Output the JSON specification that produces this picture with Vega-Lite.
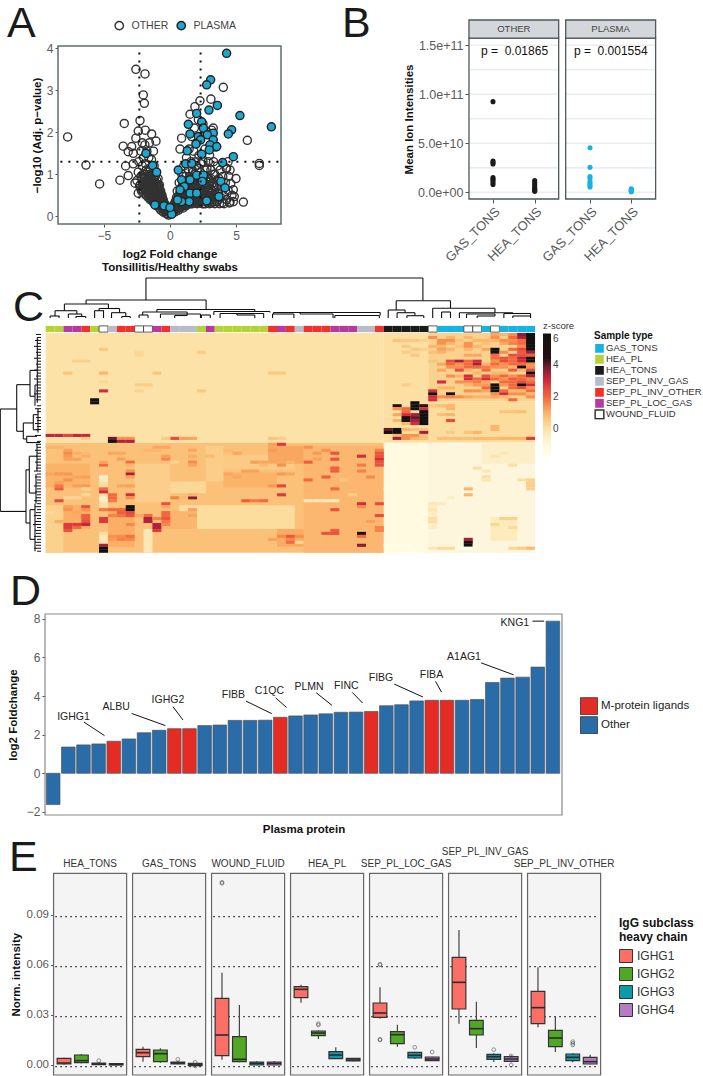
{"$schema":"https://vega.github.io/schema/vega-lite/v6.json","width":703,"height":1076,"autosize":{"type":"none"},"padding":0,"background":"white","config":{"view":{"stroke":null},"font":"Liberation Sans","axis":{"grid":false,"domain":false,"labelColor":"#5a5a5a","tickColor":"#555","titleColor":"#111","titleFontWeight":"bold","labelFontWeight":"normal"},"legend":{"labelFont":"Liberation Sans","titleFont":"Liberation Sans"}},
"datasets":{"box":[
{"p":"HEA_TONS","g":"IGHG1","x":1,"lo":0.0002,"q1":0.0006,"m":0.0012,"q3":0.004,"hi":0.0044},{"p":"HEA_TONS","g":"IGHG2","x":2,"lo":0.001,"q1":0.0014,"m":0.0026,"q3":0.006,"hi":0.0066},{"p":"HEA_TONS","g":"IGHG3","x":3,"lo":0,"q1":0.0002,"m":0.0006,"q3":0.0012,"hi":0.0016},{"p":"HEA_TONS","g":"IGHG4","x":4,"lo":-0.0002,"q1":0,"m":0.0003,"q3":0.0008,"hi":0.001},
{"p":"GAS_TONS","g":"IGHG1","x":5.54,"lo":0.002,"q1":0.005,"m":0.0074,"q3":0.0094,"hi":0.011},{"p":"GAS_TONS","g":"IGHG2","x":6.54,"lo":0.0014,"q1":0.002,"m":0.0068,"q3":0.009,"hi":0.01},{"p":"GAS_TONS","g":"IGHG3","x":7.54,"lo":0.0004,"q1":0.0006,"m":0.0012,"q3":0.0018,"hi":0.0026},{"p":"GAS_TONS","g":"IGHG4","x":8.54,"lo":-0.0005,"q1":-0.0004,"m":0.0002,"q3":0.001,"hi":0.0012},
{"p":"WOUND_FLUID","g":"IGHG1","x":10.08,"lo":0.0032,"q1":0.0056,"m":0.018,"q3":0.04,"hi":0.0554},{"p":"WOUND_FLUID","g":"IGHG2","x":11.08,"lo":0.0016,"q1":0.002,"m":0.0034,"q3":0.017,"hi":0.036},{"p":"WOUND_FLUID","g":"IGHG3","x":12.08,"lo":-0.0002,"q1":0,"m":0.001,"q3":0.0018,"hi":0.0022},{"p":"WOUND_FLUID","g":"IGHG4","x":13.08,"lo":-0.0002,"q1":0,"m":0.001,"q3":0.0018,"hi":0.0024},
{"p":"HEA_PL","g":"IGHG1","x":14.62,"lo":0.0374,"q1":0.0404,"m":0.0454,"q3":0.047,"hi":0.0482},{"p":"HEA_PL","g":"IGHG2","x":15.62,"lo":0.0156,"q1":0.0176,"m":0.0192,"q3":0.0204,"hi":0.0208},{"p":"HEA_PL","g":"IGHG3","x":16.62,"lo":0.0036,"q1":0.0038,"m":0.006,"q3":0.008,"hi":0.0106},{"p":"HEA_PL","g":"IGHG4","x":17.62,"lo":0.0022,"q1":0.0024,"m":0.003,"q3":0.004,"hi":0.0042},
{"p":"SEP_PL_LOC_GAS","g":"IGHG1","x":19.16,"lo":0.0278,"q1":0.0286,"m":0.0312,"q3":0.0372,"hi":0.0466},{"p":"SEP_PL_LOC_GAS","g":"IGHG2","x":20.16,"lo":0.011,"q1":0.0128,"m":0.0182,"q3":0.02,"hi":0.0242},{"p":"SEP_PL_LOC_GAS","g":"IGHG3","x":21.16,"lo":0.0036,"q1":0.0042,"m":0.0058,"q3":0.0076,"hi":0.008},{"p":"SEP_PL_LOC_GAS","g":"IGHG4","x":22.16,"lo":0.0024,"q1":0.0026,"m":0.0036,"q3":0.0048,"hi":0.005},
{"p":"SEP_PL_INV_GAS","g":"IGHG1","x":23.7,"lo":0.0248,"q1":0.0336,"m":0.0496,"q3":0.0646,"hi":0.081},{"p":"SEP_PL_INV_GAS","g":"IGHG2","x":24.7,"lo":0.0102,"q1":0.018,"m":0.0218,"q3":0.0268,"hi":0.038},{"p":"SEP_PL_INV_GAS","g":"IGHG3","x":25.7,"lo":0.0018,"q1":0.0034,"m":0.005,"q3":0.0064,"hi":0.007},{"p":"SEP_PL_INV_GAS","g":"IGHG4","x":26.7,"lo":0.0016,"q1":0.0022,"m":0.0036,"q3":0.005,"hi":0.0058},
{"p":"SEP_PL_INV_OTHER","g":"IGHG1","x":28.24,"lo":0.0226,"q1":0.0248,"m":0.0344,"q3":0.0442,"hi":0.0586},{"p":"SEP_PL_INV_OTHER","g":"IGHG2","x":29.24,"lo":0.0078,"q1":0.011,"m":0.0162,"q3":0.0208,"hi":0.029},{"p":"SEP_PL_INV_OTHER","g":"IGHG3","x":30.24,"lo":0.0016,"q1":0.0026,"m":0.0046,"q3":0.0066,"hi":0.007},{"p":"SEP_PL_INV_OTHER","g":"IGHG4","x":31.24,"lo":0.0004,"q1":0.0006,"m":0.002,"q3":0.0046,"hi":0.0062}
]},
"layer":[
{"encoding":{"x":{"field":"x","type":"quantitative","scale":{"domain":[-8.48,8.41],"range":[58,281]},"axis":{"orient":"bottom","values":[-5,0,5],"offset":-852,"labelFontSize":12,"tickSize":3,"title":["log2 Fold change","Tonsillitis/Healthy swabs"],"titleFontSize":11.5,"titlePadding":7,"labelPadding":3}},"y":{"field":"y","type":"quantitative","scale":{"domain":[-0.183,4.055],"range":[224,46]},"axis":{"orient":"left","values":[0,1,2,3,4],"offset":-58,"labelFontSize":12,"tickSize":3,"title":"−log10 (Adj. p−value)","titleFontSize":11.5,"titlePadding":4}}},
"layer":[
{"data":{"values":[{"x":-8.48,"x2":8.41,"y":-0.183,"y2":4.055}]},"mark":{"type":"rect","fill":"white","stroke":"#5f6e6e","strokeWidth":1.5},"encoding":{"x2":{"field":"x2"},"y2":{"field":"y2"}}},
{"data":{"values":[
{"t":"OTHER","x":-7.75,"y":1.89},{"t":"OTHER","x":-6.36,"y":1.22},{"t":"OTHER","x":-5.33,"y":0.77},{"t":"OTHER","x":-3.79,"y":0.86},{"t":"OTHER","x":-3.46,"y":2.21},{"t":"OTHER","x":-3.54,"y":1.67},{"t":"OTHER","x":-3.36,"y":1.2},{"t":"OTHER","x":-3.16,"y":0.97},{"t":"OTHER","x":-2.58,"y":3.5},{"t":"OTHER","x":-1.89,"y":3.39},{"t":"OTHER","x":-2.02,"y":2.89},{"t":"OTHER","x":-1.94,"y":2.69},{"t":"OTHER","x":-2.27,"y":2.28},{"t":"OTHER","x":-2.4,"y":2.03},{"t":"OTHER","x":-1.87,"y":2.05},{"t":"OTHER","x":-1.39,"y":1.96},{"t":"OTHER","x":-1.06,"y":1.79},{"t":"OTHER","x":-2.58,"y":1.86},{"t":"OTHER","x":-2.9,"y":1.66},{"t":"OTHER","x":-2.78,"y":1.5},{"t":"OTHER","x":-3.16,"y":1.54},{"t":"OTHER","x":-2.65,"y":0.79},{"t":"OTHER","x":-2.4,"y":0.55},{"t":"OTHER","x":-2.78,"y":1.25},
{"t":"OTHER","x":4.04,"y":3.07},{"t":"OTHER","x":2.27,"y":2.75},{"t":"OTHER","x":3.1,"y":2.79},{"t":"OTHER","x":1.89,"y":2.61},{"t":"OTHER","x":1.52,"y":2.43},{"t":"OTHER","x":5.86,"y":1.81},{"t":"OTHER","x":6.77,"y":1.26},{"t":"OTHER","x":6.77,"y":1.21},{"t":"OTHER","x":5.56,"y":0.34},{"t":"OTHER","x":5,"y":0.9},{"t":"OTHER","x":4.8,"y":0.63},{"t":"OTHER","x":4.87,"y":0.47},{"t":"OTHER","x":4.55,"y":0.34},{"t":"OTHER","x":4.8,"y":0.35},{"t":"OTHER","x":4.55,"y":1.1},{"t":"OTHER","x":4.29,"y":1.14},{"t":"OTHER","x":3.28,"y":2.1},{"t":"OTHER","x":0.88,"y":1.86},{"t":"OTHER","x":0.76,"y":1.6},
{"t":"OTHER","x":-2.5,"y":0.85},{"t":"OTHER","x":-2.4,"y":1.05},{"t":"OTHER","x":-2.35,"y":1.3},{"t":"OTHER","x":-2.3,"y":0.72},{"t":"OTHER","x":-2.2,"y":1.55},{"t":"OTHER","x":-2.2,"y":0.95},{"t":"OTHER","x":-2.15,"y":0.6},{"t":"OTHER","x":-2.1,"y":1.2},{"t":"OTHER","x":-2.1,"y":1.75},{"t":"OTHER","x":-2.05,"y":0.8},{"t":"OTHER","x":-2,"y":1.4},{"t":"OTHER","x":-2,"y":0.55},{"t":"OTHER","x":-1.95,"y":1},{"t":"OTHER","x":-1.9,"y":1.7},{"t":"OTHER","x":-1.9,"y":0.65},{"t":"OTHER","x":-1.85,"y":1.25},{"t":"OTHER","x":-1.8,"y":0.85},{"t":"OTHER","x":-1.8,"y":0.5},{"t":"OTHER","x":-1.75,"y":1.55},{"t":"OTHER","x":-1.7,"y":1.05},{"t":"OTHER","x":-1.7,"y":0.7},{"t":"OTHER","x":-1.65,"y":0.45},{"t":"OTHER","x":-1.6,"y":1.4},{"t":"OTHER","x":-1.6,"y":0.9},{"t":"OTHER","x":-1.55,"y":1.75},{"t":"OTHER","x":-1.55,"y":0.6},{"t":"OTHER","x":-1.5,"y":1.15},{"t":"OTHER","x":-1.5,"y":0.4},{"t":"OTHER","x":-1.45,"y":0.8},{"t":"OTHER","x":-1.4,"y":1.35},{"t":"OTHER","x":-1.4,"y":0.55},{"t":"OTHER","x":-1.35,"y":1},{"t":"OTHER","x":-1.3,"y":0.35},{"t":"OTHER","x":-1.3,"y":0.7},{"t":"OTHER","x":-1.25,"y":1.55},{"t":"OTHER","x":-1.25,"y":0.9},{"t":"OTHER","x":-1.2,"y":0.45},{"t":"OTHER","x":-1.2,"y":1.2},{"t":"OTHER","x":-1.15,"y":0.6},{"t":"OTHER","x":-1.1,"y":0.8},{"t":"OTHER","x":-1.1,"y":0.3},{"t":"OTHER","x":-1.05,"y":1},{"t":"OTHER","x":-1,"y":0.5},{"t":"OTHER","x":-1,"y":0.25},{"t":"OTHER","x":-0.95,"y":0.7},{"t":"OTHER","x":-0.9,"y":0.9},{"t":"OTHER","x":-0.9,"y":0.35},{"t":"OTHER","x":-0.85,"y":0.55},{"t":"OTHER","x":-0.8,"y":0.2},{"t":"OTHER","x":-0.8,"y":0.75},{"t":"OTHER","x":-0.75,"y":0.42},{"t":"OTHER","x":-0.7,"y":0.6},{"t":"OTHER","x":-0.7,"y":0.15},{"t":"OTHER","x":-0.65,"y":0.3},{"t":"OTHER","x":-0.6,"y":0.5},{"t":"OTHER","x":-0.55,"y":0.2},{"t":"OTHER","x":-0.5,"y":0.38},{"t":"OTHER","x":-0.5,"y":0.1},{"t":"OTHER","x":-0.45,"y":0.28},{"t":"OTHER","x":-0.4,"y":0.15},{"t":"OTHER","x":-0.35,"y":0.25},{"t":"OTHER","x":-0.3,"y":0.07},{"t":"OTHER","x":-0.25,"y":0.17},{"t":"OTHER","x":-0.2,"y":0.05},{"t":"OTHER","x":-0.15,"y":0.1},{"t":"OTHER","x":-0.1,"y":0.03},
{"t":"OTHER","x":-2.25,"y":0.75},{"t":"OTHER","x":-2.1,"y":0.65},{"t":"OTHER","x":-2.05,"y":1},{"t":"OTHER","x":-1.95,"y":0.75},{"t":"OTHER","x":-1.9,"y":0.95},{"t":"OTHER","x":-1.85,"y":0.6},{"t":"OTHER","x":-1.8,"y":1.1},{"t":"OTHER","x":-1.75,"y":0.8},{"t":"OTHER","x":-1.7,"y":0.55},{"t":"OTHER","x":-1.65,"y":0.95},{"t":"OTHER","x":-1.6,"y":0.7},{"t":"OTHER","x":-1.6,"y":0.5},{"t":"OTHER","x":-1.55,"y":1},{"t":"OTHER","x":-1.5,"y":0.7},{"t":"OTHER","x":-1.5,"y":0.55},{"t":"OTHER","x":-1.45,"y":0.95},{"t":"OTHER","x":-1.4,"y":0.7},{"t":"OTHER","x":-1.4,"y":0.42},{"t":"OTHER","x":-1.35,"y":0.85},{"t":"OTHER","x":-1.3,"y":0.55},{"t":"OTHER","x":-1.25,"y":0.75},{"t":"OTHER","x":-1.25,"y":0.4},{"t":"OTHER","x":-1.2,"y":0.65},{"t":"OTHER","x":-1.2,"y":0.9},{"t":"OTHER","x":-1.15,"y":0.35},{"t":"OTHER","x":-1.1,"y":0.55},{"t":"OTHER","x":-1.05,"y":0.7},{"t":"OTHER","x":-1.05,"y":0.4},{"t":"OTHER","x":-1,"y":0.85},{"t":"OTHER","x":-1,"y":0.6},{"t":"OTHER","x":-0.95,"y":0.45},{"t":"OTHER","x":-0.95,"y":0.28},{"t":"OTHER","x":-0.9,"y":0.6},{"t":"OTHER","x":-0.85,"y":0.4},{"t":"OTHER","x":-0.85,"y":0.7},{"t":"OTHER","x":-0.8,"y":0.5},{"t":"OTHER","x":-0.8,"y":0.3},{"t":"OTHER","x":-0.75,"y":0.6},{"t":"OTHER","x":-0.7,"y":0.4},{"t":"OTHER","x":-0.7,"y":0.28},{"t":"OTHER","x":-0.65,"y":0.5},{"t":"OTHER","x":-0.6,"y":0.35},{"t":"OTHER","x":-0.6,"y":0.2},{"t":"OTHER","x":-0.55,"y":0.42},{"t":"OTHER","x":-0.5,"y":0.25},{"t":"OTHER","x":-0.45,"y":0.15},{"t":"OTHER","x":-0.4,"y":0.3},{"t":"OTHER","x":-0.35,"y":0.12},{"t":"OTHER","x":-0.3,"y":0.2},{"t":"OTHER","x":-0.2,"y":0.13},
{"t":"OTHER","x":-2.2,"y":0.65},{"t":"OTHER","x":-2.1,"y":0.9},{"t":"OTHER","x":-2,"y":0.7},{"t":"OTHER","x":-1.95,"y":0.9},{"t":"OTHER","x":-1.85,"y":0.8},{"t":"OTHER","x":-1.8,"y":0.65},{"t":"OTHER","x":-1.75,"y":0.95},{"t":"OTHER","x":-1.7,"y":0.85},{"t":"OTHER","x":-1.65,"y":0.65},{"t":"OTHER","x":-1.6,"y":0.8},{"t":"OTHER","x":-1.55,"y":0.75},{"t":"OTHER","x":-1.5,"y":0.9},{"t":"OTHER","x":-1.5,"y":0.62},{"t":"OTHER","x":-1.45,"y":0.5},{"t":"OTHER","x":-1.4,"y":0.85},{"t":"OTHER","x":-1.35,"y":0.6},{"t":"OTHER","x":-1.3,"y":0.8},{"t":"OTHER","x":-1.3,"y":0.45},{"t":"OTHER","x":-1.25,"y":0.6},{"t":"OTHER","x":-1.2,"y":0.78},{"t":"OTHER","x":-1.2,"y":0.55},{"t":"OTHER","x":-1.15,"y":0.75},{"t":"OTHER","x":-1.15,"y":0.48},{"t":"OTHER","x":-1.1,"y":0.65},{"t":"OTHER","x":-1.1,"y":0.42},{"t":"OTHER","x":-1.05,"y":0.55},{"t":"OTHER","x":-1.05,"y":0.3},{"t":"OTHER","x":-1,"y":0.72},{"t":"OTHER","x":-1,"y":0.38},{"t":"OTHER","x":-0.95,"y":0.58},{"t":"OTHER","x":-0.9,"y":0.48},{"t":"OTHER","x":-0.9,"y":0.75},{"t":"OTHER","x":-0.85,"y":0.3},{"t":"OTHER","x":-0.8,"y":0.6},{"t":"OTHER","x":-0.75,"y":0.3},{"t":"OTHER","x":-0.75,"y":0.5},{"t":"OTHER","x":-0.7,"y":0.5},{"t":"OTHER","x":-0.65,"y":0.4},{"t":"OTHER","x":-0.6,"y":0.28},{"t":"OTHER","x":-0.55,"y":0.32},
{"t":"OTHER","x":0.1,"y":0.05},{"t":"OTHER","x":0.15,"y":0.12},{"t":"OTHER","x":0.2,"y":0.2},{"t":"OTHER","x":0.25,"y":0.08},{"t":"OTHER","x":0.3,"y":0.28},{"t":"OTHER","x":0.35,"y":0.15},{"t":"OTHER","x":0.4,"y":0.35},{"t":"OTHER","x":0.45,"y":0.12},{"t":"OTHER","x":0.5,"y":0.45},{"t":"OTHER","x":0.5,"y":0.22},{"t":"OTHER","x":0.55,"y":0.6},{"t":"OTHER","x":0.6,"y":0.3},{"t":"OTHER","x":0.65,"y":0.15},{"t":"OTHER","x":0.7,"y":0.5},{"t":"OTHER","x":0.7,"y":0.8},{"t":"OTHER","x":0.75,"y":0.2},{"t":"OTHER","x":0.8,"y":0.38},{"t":"OTHER","x":0.85,"y":0.65},{"t":"OTHER","x":0.9,"y":1},{"t":"OTHER","x":0.9,"y":0.25},{"t":"OTHER","x":0.95,"y":0.5},{"t":"OTHER","x":1,"y":0.8},{"t":"OTHER","x":1,"y":0.2},{"t":"OTHER","x":1.05,"y":1.2},{"t":"OTHER","x":1.1,"y":0.35},{"t":"OTHER","x":1.15,"y":0.6},{"t":"OTHER","x":1.2,"y":0.95},{"t":"OTHER","x":1.2,"y":0.25},{"t":"OTHER","x":1.25,"y":1.4},{"t":"OTHER","x":1.3,"y":0.45},{"t":"OTHER","x":1.35,"y":0.75},{"t":"OTHER","x":1.4,"y":1.1},{"t":"OTHER","x":1.4,"y":0.3},{"t":"OTHER","x":1.45,"y":1.6},{"t":"OTHER","x":1.5,"y":0.5},{"t":"OTHER","x":1.55,"y":0.9},{"t":"OTHER","x":1.6,"y":0.3},{"t":"OTHER","x":1.6,"y":1.3},{"t":"OTHER","x":1.65,"y":1.9},{"t":"OTHER","x":1.7,"y":0.65},{"t":"OTHER","x":1.75,"y":1.05},{"t":"OTHER","x":1.8,"y":0.35},{"t":"OTHER","x":1.8,"y":1.55},{"t":"OTHER","x":1.85,"y":2.1},{"t":"OTHER","x":1.9,"y":0.8},{"t":"OTHER","x":1.95,"y":0.45},{"t":"OTHER","x":2,"y":1.2},{"t":"OTHER","x":2,"y":1.75},{"t":"OTHER","x":2.05,"y":0.3},{"t":"OTHER","x":2.1,"y":0.95},{"t":"OTHER","x":2.15,"y":2.3},{"t":"OTHER","x":2.2,"y":0.6},{"t":"OTHER","x":2.2,"y":1.45},{"t":"OTHER","x":2.25,"y":0.35},{"t":"OTHER","x":2.3,"y":1.05},{"t":"OTHER","x":2.35,"y":1.9},{"t":"OTHER","x":2.4,"y":0.75},{"t":"OTHER","x":2.45,"y":0.3},{"t":"OTHER","x":2.5,"y":1.3},{"t":"OTHER","x":2.5,"y":2.2},{"t":"OTHER","x":2.55,"y":0.5},{"t":"OTHER","x":2.6,"y":0.95},{"t":"OTHER","x":2.65,"y":1.6},{"t":"OTHER","x":2.7,"y":0.3},{"t":"OTHER","x":2.75,"y":0.75},{"t":"OTHER","x":2.8,"y":1.15},{"t":"OTHER","x":2.85,"y":2},{"t":"OTHER","x":2.9,"y":0.45},{"t":"OTHER","x":2.95,"y":0.9},{"t":"OTHER","x":3,"y":1.45},{"t":"OTHER","x":3,"y":0.3},{"t":"OTHER","x":3.05,"y":0.65},{"t":"OTHER","x":3.1,"y":1.1},{"t":"OTHER","x":3.15,"y":2.05},{"t":"OTHER","x":3.2,"y":0.4},{"t":"OTHER","x":3.25,"y":0.8},{"t":"OTHER","x":3.3,"y":1.3},{"t":"OTHER","x":3.35,"y":0.5},{"t":"OTHER","x":3.4,"y":1},{"t":"OTHER","x":3.4,"y":0.3},{"t":"OTHER","x":3.45,"y":1.65},{"t":"OTHER","x":3.5,"y":0.7},{"t":"OTHER","x":3.55,"y":0.35},{"t":"OTHER","x":3.6,"y":1.2},{"t":"OTHER","x":3.65,"y":0.55},{"t":"OTHER","x":3.7,"y":0.9},{"t":"OTHER","x":3.75,"y":0.3},{"t":"OTHER","x":3.8,"y":1.1},{"t":"OTHER","x":3.85,"y":0.45},{"t":"OTHER","x":3.9,"y":0.7},{"t":"OTHER","x":3.95,"y":0.32},{"t":"OTHER","x":4,"y":0.95},{"t":"OTHER","x":4.05,"y":0.5},{"t":"OTHER","x":4.1,"y":0.3},{"t":"OTHER","x":4.2,"y":0.8},{"t":"OTHER","x":4.25,"y":1.15},{"t":"OTHER","x":4.3,"y":0.4},{"t":"OTHER","x":4.4,"y":0.62},{"t":"OTHER","x":4.45,"y":0.95},{"t":"OTHER","x":4.5,"y":0.32},{"t":"OTHER","x":4.6,"y":0.78},{"t":"OTHER","x":4.7,"y":0.5},{"t":"OTHER","x":4.4,"y":1.3},
{"t":"OTHER","x":0.2,"y":0.1},{"t":"OTHER","x":0.3,"y":0.15},{"t":"OTHER","x":0.35,"y":0.25},{"t":"OTHER","x":0.4,"y":0.2},{"t":"OTHER","x":0.45,"y":0.3},{"t":"OTHER","x":0.5,"y":0.32},{"t":"OTHER","x":0.55,"y":0.18},{"t":"OTHER","x":0.6,"y":0.45},{"t":"OTHER","x":0.65,"y":0.35},{"t":"OTHER","x":0.7,"y":0.25},{"t":"OTHER","x":0.75,"y":0.55},{"t":"OTHER","x":0.8,"y":0.22},{"t":"OTHER","x":0.85,"y":0.42},{"t":"OTHER","x":0.9,"y":0.7},{"t":"OTHER","x":0.95,"y":0.3},{"t":"OTHER","x":1,"y":0.55},{"t":"OTHER","x":1,"y":0.95},{"t":"OTHER","x":1.05,"y":0.35},{"t":"OTHER","x":1.1,"y":0.75},{"t":"OTHER","x":1.1,"y":0.5},{"t":"OTHER","x":1.15,"y":0.28},{"t":"OTHER","x":1.2,"y":0.6},{"t":"OTHER","x":1.25,"y":0.4},{"t":"OTHER","x":1.3,"y":0.85},{"t":"OTHER","x":1.3,"y":0.28},{"t":"OTHER","x":1.35,"y":0.55},{"t":"OTHER","x":1.4,"y":0.7},{"t":"OTHER","x":1.45,"y":0.4},{"t":"OTHER","x":1.5,"y":0.95},{"t":"OTHER","x":1.5,"y":0.3},{"t":"OTHER","x":1.55,"y":0.65},{"t":"OTHER","x":1.6,"y":0.45},{"t":"OTHER","x":1.65,"y":0.85},{"t":"OTHER","x":1.7,"y":0.3},{"t":"OTHER","x":1.7,"y":1.1},{"t":"OTHER","x":1.75,"y":0.5},{"t":"OTHER","x":1.8,"y":0.75},{"t":"OTHER","x":1.85,"y":0.4},{"t":"OTHER","x":1.85,"y":1},{"t":"OTHER","x":1.9,"y":0.55},{"t":"OTHER","x":1.95,"y":1.3},{"t":"OTHER","x":2,"y":0.7},{"t":"OTHER","x":2,"y":0.35},{"t":"OTHER","x":2.05,"y":0.9},{"t":"OTHER","x":2.1,"y":0.5},{"t":"OTHER","x":2.15,"y":1.15},{"t":"OTHER","x":2.2,"y":0.32},{"t":"OTHER","x":2.25,"y":0.75},{"t":"OTHER","x":2.3,"y":0.55},{"t":"OTHER","x":2.35,"y":1.25},{"t":"OTHER","x":2.4,"y":0.4},{"t":"OTHER","x":2.45,"y":0.95},{"t":"OTHER","x":2.5,"y":0.6},{"t":"OTHER","x":2.55,"y":0.3},{"t":"OTHER","x":2.6,"y":0.75},{"t":"OTHER","x":2.65,"y":1.1},{"t":"OTHER","x":2.7,"y":0.5},{"t":"OTHER","x":2.75,"y":0.35},{"t":"OTHER","x":2.8,"y":0.9},{"t":"OTHER","x":2.85,"y":0.6},{"t":"OTHER","x":2.9,"y":1.3},{"t":"OTHER","x":2.95,"y":0.35},{"t":"OTHER","x":3,"y":0.75},{"t":"OTHER","x":3.05,"y":0.5},{"t":"OTHER","x":3.1,"y":0.9},{"t":"OTHER","x":3.15,"y":0.32},{"t":"OTHER","x":3.2,"y":0.6},{"t":"OTHER","x":3.3,"y":1},{"t":"OTHER","x":3.35,"y":0.35},{"t":"OTHER","x":3.4,"y":0.7},{"t":"OTHER","x":3.5,"y":0.45},{"t":"OTHER","x":3.6,"y":0.85},{"t":"OTHER","x":3.7,"y":0.4},{"t":"OTHER","x":3.8,"y":0.65},
{"t":"OTHER","x":0.4,"y":0.28},{"t":"OTHER","x":0.5,"y":0.38},{"t":"OTHER","x":0.6,"y":0.22},{"t":"OTHER","x":0.65,"y":0.42},{"t":"OTHER","x":0.7,"y":0.35},{"t":"OTHER","x":0.75,"y":0.42},{"t":"OTHER","x":0.8,"y":0.3},{"t":"OTHER","x":0.85,"y":0.5},{"t":"OTHER","x":0.9,"y":0.38},{"t":"OTHER","x":0.95,"y":0.6},{"t":"OTHER","x":1,"y":0.42},{"t":"OTHER","x":1.05,"y":0.65},{"t":"OTHER","x":1.1,"y":0.25},{"t":"OTHER","x":1.15,"y":0.42},{"t":"OTHER","x":1.2,"y":0.72},{"t":"OTHER","x":1.25,"y":0.52},{"t":"OTHER","x":1.3,"y":0.62},{"t":"OTHER","x":1.35,"y":0.35},{"t":"OTHER","x":1.4,"y":0.52},{"t":"OTHER","x":1.45,"y":0.82},{"t":"OTHER","x":1.5,"y":0.65},{"t":"OTHER","x":1.55,"y":0.4},{"t":"OTHER","x":1.6,"y":0.72},{"t":"OTHER","x":1.65,"y":0.55},{"t":"OTHER","x":1.7,"y":0.42},{"t":"OTHER","x":1.75,"y":0.8},{"t":"OTHER","x":1.8,"y":0.55},{"t":"OTHER","x":1.85,"y":0.7},{"t":"OTHER","x":1.9,"y":0.35},{"t":"OTHER","x":1.95,"y":0.62},{"t":"OTHER","x":2,"y":0.85},{"t":"OTHER","x":2.05,"y":0.48},{"t":"OTHER","x":2.1,"y":0.72},{"t":"OTHER","x":2.15,"y":0.4},{"t":"OTHER","x":2.2,"y":0.9},{"t":"OTHER","x":2.25,"y":0.55},{"t":"OTHER","x":2.3,"y":0.8},{"t":"OTHER","x":2.35,"y":0.35},{"t":"OTHER","x":2.4,"y":0.6},{"t":"OTHER","x":2.45,"y":0.45},{"t":"OTHER","x":2.5,"y":0.8},{"t":"OTHER","x":2.6,"y":0.4},{"t":"OTHER","x":2.65,"y":0.6},{"t":"OTHER","x":2.7,"y":0.85},{"t":"OTHER","x":2.75,"y":0.5},{"t":"OTHER","x":2.8,"y":0.35},{"t":"OTHER","x":2.85,"y":0.72},{"t":"OTHER","x":2.9,"y":0.6},{"t":"OTHER","x":3,"y":0.45},{"t":"OTHER","x":3.05,"y":0.82},{"t":"OTHER","x":3.1,"y":0.55},{"t":"OTHER","x":3.2,"y":0.78},{"t":"OTHER","x":3.3,"y":0.45},{"t":"OTHER","x":3.4,"y":0.55},
{"t":"PLASMA","x":4.29,"y":3.88},{"t":"PLASMA","x":3.08,"y":3.25},{"t":"PLASMA","x":2.78,"y":3.13},{"t":"PLASMA","x":2.95,"y":2.53},{"t":"PLASMA","x":3.59,"y":2.64},{"t":"PLASMA","x":5.3,"y":2.4},{"t":"PLASMA","x":7.68,"y":2.13},{"t":"PLASMA","x":4.67,"y":2.06},{"t":"PLASMA","x":4.42,"y":1.96},{"t":"PLASMA","x":2.02,"y":2.45},{"t":"PLASMA","x":2.4,"y":2.25},{"t":"PLASMA","x":1.39,"y":2.19},{"t":"PLASMA","x":2.53,"y":2.1},{"t":"PLASMA","x":1.52,"y":1.96},{"t":"PLASMA","x":3.28,"y":1.98},{"t":"PLASMA","x":2.15,"y":1.9},{"t":"PLASMA","x":2.83,"y":1.94},{"t":"PLASMA","x":2.32,"y":1.82},{"t":"PLASMA","x":3.28,"y":1.82},{"t":"PLASMA","x":3.03,"y":1.7},{"t":"PLASMA","x":1.97,"y":1.72},{"t":"PLASMA","x":3.54,"y":1.66},{"t":"PLASMA","x":1.31,"y":1.56},{"t":"PLASMA","x":2.98,"y":1.58},{"t":"PLASMA","x":2.4,"y":1.48},{"t":"PLASMA","x":4.8,"y":1.42},{"t":"PLASMA","x":3.99,"y":1.28},{"t":"PLASMA","x":1.19,"y":1.25},{"t":"PLASMA","x":1.64,"y":1.26},{"t":"PLASMA","x":0.63,"y":1.1},{"t":"PLASMA","x":2.02,"y":0.98},{"t":"PLASMA","x":2.53,"y":0.98},{"t":"PLASMA","x":2.45,"y":0.83},{"t":"PLASMA","x":1.52,"y":0.87},{"t":"PLASMA","x":0.88,"y":0.87},{"t":"PLASMA","x":1.09,"y":0.71},{"t":"PLASMA","x":0.76,"y":0.63},{"t":"PLASMA","x":3.86,"y":0.83},{"t":"PLASMA","x":4.17,"y":0.68},{"t":"PLASMA","x":3.71,"y":0.47},{"t":"PLASMA","x":1.52,"y":0.55},{"t":"PLASMA","x":2.02,"y":0.55},{"t":"PLASMA","x":2.78,"y":0.37},{"t":"PLASMA","x":1.46,"y":0.35},{"t":"PLASMA","x":0.88,"y":0.35},{"t":"PLASMA","x":0.58,"y":0.39},{"t":"PLASMA","x":-1.82,"y":1.5},{"t":"PLASMA","x":-1.31,"y":1.21},{"t":"PLASMA","x":-1.01,"y":1.05},{"t":"PLASMA","x":-1.14,"y":0.27},{"t":"PLASMA","x":-0.45,"y":0.25},{"t":"PLASMA","x":0.13,"y":0.05},{"t":"PLASMA","x":0,"y":0.21}
]},"mark":{"type":"point","filled":true,"size":66,"strokeWidth":1.4,"opacity":1},"encoding":{"fill":{"field":"t","type":"nominal","scale":{"domain":["OTHER","PLASMA"],"range":["transparent","#1fa7cf"]},"legend":{"orient":"none","legendX":114,"legendY":20,"direction":"horizontal","title":null,"symbolSize":70,"symbolStrokeWidth":1.4,"labelFontSize":10.5,"labelColor":"#444","columnPadding":5,"labelOffset":7}},"stroke":{"field":"t","type":"nominal","scale":{"domain":["OTHER","PLASMA"],"range":["#333333","#222222"]},"legend":{"orient":"none","legendX":114,"legendY":20,"direction":"horizontal","title":null,"symbolSize":70,"symbolStrokeWidth":1.4,"labelFontSize":10.5,"labelColor":"#444","columnPadding":5,"labelOffset":7}}}},
{"data":{"values":[{"x":-8.3,"x2":8.3,"y":1.3,"y2":1.3},{"x":-2.32,"x2":-2.32,"y":-0.15,"y2":4},{"x":2.32,"x2":2.32,"y":-0.15,"y2":4}]},"mark":{"type":"rule","stroke":"#111","strokeWidth":2,"strokeDash":[2,6]},"encoding":{"x2":{"field":"x2"},"y2":{"field":"y2"}}},
{"data":{"values":[{"x":-12.35,"y":4.27,"label":"A"}]},"mark":{"type":"text","align":"left","baseline":"alphabetic","fontSize":43,"color":"#1a1a1a"},"encoding":{"text":{"field":"label"}}}
]},
{"encoding":{"x":{"field":"x","type":"quantitative","scale":{"domain":[0,5],"range":[451.3,659.8]},"axis":{"orient":"bottom","values":[1,2,3.326,4.317],"offset":-877,"labelExpr":"datum.value<1.5||(datum.value>3&&datum.value<4)?'GAS_TONS':'HEA_TONS'","labelAngle":-45,"labelAlign":"right","labelBaseline":"top","labelFontSize":13,"labelOverlap":false,"tickSize":4,"title":null}},"y":{"field":"y","type":"quantitative","scale":{"domain":[-6800000000,175800000000],"range":[199,20]},"axis":{"orient":"left","values":[0,50000000000,100000000000,150000000000],"offset":-469,"labelExpr":"datum.value==0?'0.0e+00':format(datum.value,'.1e')","labelFontSize":12.5,"tickSize":4,"title":"Mean Ion Intensities","titleFontSize":11.5,"titlePadding":3,"titleY":119}}},
"layer":[
{"data":{"values":[{"x":0.424,"x2":2.575,"y":0},{"x":0.424,"x2":2.575,"y":2.5e10},{"x":0.424,"x2":2.575,"y":5e10},{"x":0.424,"x2":2.575,"y":7.5e10},{"x":0.424,"x2":2.575,"y":1e11},{"x":0.424,"x2":2.575,"y":1.25e11},{"x":0.424,"x2":2.575,"y":1.5e11},{"x":2.743,"x2":4.9,"y":0},{"x":2.743,"x2":4.9,"y":2.5e10},{"x":2.743,"x2":4.9,"y":5e10},{"x":2.743,"x2":4.9,"y":7.5e10},{"x":2.743,"x2":4.9,"y":1e11},{"x":2.743,"x2":4.9,"y":1.25e11},{"x":2.743,"x2":4.9,"y":1.5e11}]},"mark":{"type":"rule","stroke":"#ebedf0","strokeWidth":1.6},"encoding":{"x2":{"field":"x2"}}},
{"data":{"values":[{"x":0.424,"x2":2.575,"y":-6.8e9,"y2":1.574e11,"k":"panel"},{"x":2.743,"x2":4.9,"y":-6.8e9,"y2":1.574e11,"k":"panel"}]},"mark":{"type":"rect","fill":"transparent","stroke":"#4d5a5a","strokeWidth":1.3},"encoding":{"x2":{"field":"x2"},"y2":{"field":"y2"}}},
{"data":{"values":[{"x":0.424,"x2":2.575,"y":1.574e11,"y2":1.758e11},{"x":2.743,"x2":4.9,"y":1.574e11,"y2":1.758e11}]},"mark":{"type":"rect","fill":"#d3d7db","stroke":"#4d5a5a","strokeWidth":1.3},"encoding":{"x2":{"field":"x2"},"y2":{"field":"y2"}}},
{"data":{"values":[{"x":1,"y":9.25e10,"t":"OTHER"},{"x":1,"y":3.2e10,"t":"OTHER"},{"x":1,"y":3.05e10,"t":"OTHER"},{"x":1,"y":2.9e10,"t":"OTHER"},{"x":1,"y":1.5e10,"t":"OTHER"},{"x":1,"y":1.35e10,"t":"OTHER"},{"x":1,"y":1.2e10,"t":"OTHER"},{"x":1,"y":1e10,"t":"OTHER"},{"x":1,"y":8e9,"t":"OTHER"},{"x":2,"y":1.2e10,"t":"OTHER"},{"x":2,"y":1e10,"t":"OTHER"},{"x":2,"y":8e9,"t":"OTHER"},{"x":2,"y":6e9,"t":"OTHER"},{"x":2,"y":4e9,"t":"OTHER"},{"x":2,"y":3e9,"t":"OTHER"},{"x":2,"y":2e9,"t":"OTHER"},{"x":2,"y":1e9,"t":"OTHER"},{"x":3.326,"y":4.55e10,"t":"PLASMA"},{"x":3.326,"y":2.55e10,"t":"PLASMA"},{"x":3.326,"y":1.6e10,"t":"PLASMA"},{"x":3.326,"y":1.4e10,"t":"PLASMA"},{"x":3.326,"y":1.1e10,"t":"PLASMA"},{"x":3.326,"y":9e9,"t":"PLASMA"},{"x":3.326,"y":7e9,"t":"PLASMA"},{"x":3.326,"y":5.5e9,"t":"PLASMA"},{"x":4.317,"y":3.5e9,"t":"PLASMA"},{"x":4.317,"y":2.5e9,"t":"PLASMA"},{"x":4.317,"y":2e9,"t":"PLASMA"},{"x":4.317,"y":1.5e9,"t":"PLASMA"},{"x":4.317,"y":1e9,"t":"PLASMA"},{"x":4.317,"y":5e8,"t":"PLASMA"}]},"mark":{"type":"circle","size":26,"opacity":1},"encoding":{"color":{"field":"t","type":"nominal","scale":{"domain":["OTHER","PLASMA"],"range":["#1a1a1a","#19b2e6"]},"legend":null}}},
{"data":{"values":[{"x":1.5,"y":1.636e11,"label":"OTHER"},{"x":3.82,"y":1.636e11,"label":"PLASMA"}]},"mark":{"type":"text","align":"center","baseline":"alphabetic","fontSize":9.5,"color":"#444"},"encoding":{"text":{"field":"label"}}},
{"data":{"values":[{"x":0.712,"y":1.401e11,"label":"p =\u00a0 0.01865"},{"x":2.94,"y":1.401e11,"label":"p =\u00a0 0.001554"}]},"mark":{"type":"text","align":"left","baseline":"alphabetic","fontSize":12,"color":"#111"},"encoding":{"text":{"field":"label"}}},
{"data":{"values":[{"x":-2.62,"y":1.585e11,"label":"B"}]},"mark":{"type":"text","align":"left","baseline":"alphabetic","fontSize":43,"color":"#1a1a1a"},"encoding":{"text":{"field":"label"}}}
]},
{"encoding":{"x":{"field":"x","type":"quantitative","scale":{"domain":[0,45],"range":[45,0]},"axis":null},"y":{"field":"y","type":"quantitative","scale":{"domain":[0.5,74.5],"range":[333,552.7]},"axis":null}},"layer":[
{"data":{"values":[{"x":44.7,"x2":28.3,"y":26.1},{"x":44.7,"x2":19,"y":60.6},{"x":28.3,"x2":15,"y":17.9},{"x":28.3,"x2":21.7,"y":33.6},{"x":15,"x2":7.7,"y":13.1},{"x":15,"x2":10,"y":21.8},{"x":21.7,"x2":11.7,"y":30.8},{"x":21.7,"x2":18.3,"y":36.2},{"x":18.3,"x2":8,"y":35.3},{"x":18.3,"x2":5,"y":37.4},{"x":11.7,"x2":7,"y":28},{"x":11.7,"x2":7,"y":33.1},{"x":19,"x2":15.7,"y":46.6},{"x":19,"x2":15,"y":64.5},{"x":15.7,"x2":8,"y":42},{"x":15.7,"x2":9,"y":54.4},{"x":15,"x2":10,"y":60},{"x":15,"x2":10,"y":70}]},"mark":{"type":"rule","stroke":"#111","strokeWidth":1.1},"encoding":{"x2":{"field":"x2"}}},
{"data":{"values":[{"x":44.7,"y":26.1,"y2":60.6},{"x":28.3,"y":17.9,"y2":33.6},{"x":15,"y":13.1,"y2":21.8},{"x":21.7,"y":30.8,"y2":36.2},{"x":11.7,"y":28,"y2":33.1},{"x":18.3,"y":35.3,"y2":37.4},{"x":19,"y":46.6,"y2":64.5},{"x":15.7,"y":42,"y2":54.4},{"x":15,"y":60,"y2":70},{"x":7.7,"y":2,"y2":24},{"x":10,"y":18,"y2":25},{"x":7,"y":26,"y2":34},{"x":8,"y":38,"y2":47},{"x":9,"y":48,"y2":58},{"x":10,"y":58,"y2":66},{"x":10,"y":66,"y2":74}]},"mark":{"type":"rule","stroke":"#111","strokeWidth":1.1},"encoding":{"y2":{"field":"y2"}}},
{"data":{"values":[{"x":9,"y":1},{"x":8,"y":2},{"x":10,"y":3},{"x":8,"y":4},{"x":11,"y":5},{"x":8,"y":6},{"x":9,"y":7},{"x":8,"y":8},{"x":11,"y":9},{"x":8,"y":10},{"x":9,"y":11},{"x":8,"y":12},{"x":11,"y":13},{"x":8,"y":14},{"x":9,"y":15},{"x":11,"y":16},{"x":8,"y":17},{"x":10,"y":18},{"x":8,"y":19},{"x":9,"y":20},{"x":11,"y":21},{"x":8,"y":22},{"x":9,"y":23},{"x":8,"y":25},{"x":10,"y":26},{"x":8,"y":27},{"x":9,"y":29},{"x":8,"y":30},{"x":10,"y":31},{"x":8,"y":32},{"x":9,"y":33},{"x":10,"y":35},{"x":8,"y":37},{"x":9,"y":38},{"x":8,"y":39},{"x":10,"y":40},{"x":8,"y":41},{"x":9,"y":42},{"x":8,"y":43},{"x":10,"y":44},{"x":8,"y":45},{"x":9,"y":46},{"x":11,"y":47},{"x":8,"y":48},{"x":10,"y":49},{"x":8,"y":50},{"x":9,"y":51},{"x":11,"y":52},{"x":8,"y":53},{"x":10,"y":54},{"x":8,"y":55},{"x":9,"y":56},{"x":11,"y":57},{"x":8,"y":58},{"x":10,"y":59},{"x":8,"y":60},{"x":9,"y":61},{"x":11,"y":62},{"x":8,"y":63},{"x":10,"y":64},{"x":12,"y":65},{"x":8,"y":66},{"x":10,"y":67},{"x":9,"y":68},{"x":11,"y":69},{"x":8,"y":70},{"x":10,"y":71},{"x":9,"y":72},{"x":11,"y":73},{"x":8,"y":74}]},"mark":{"type":"rule","stroke":"#111","strokeWidth":1},"encoding":{"x2":{"datum":4}}}
]},
{"encoding":{"x":{"field":"c","type":"quantitative","scale":{"domain":[0.5,55.5],"range":[45.7,535]},"axis":null},"y":{"field":"r","type":"quantitative","scale":{"domain":[0.5,74.5],"range":[333,552.7]},"axis":null},"color":{"field":"z","type":"quantitative","scale":{"domain":[-1.7,-0.8,0,1,2,3,3.8,4.4,6],"range":["#ffffff","#fdf6dc","#fde3a8","#fbb56c","#f3693f","#d52c3d","#8a1d3a","#22100f","#111111"]},"legend":{"orient":"none","legendX":543,"legendY":321,"title":"z-score","titleFontSize":9.5,"titleFontWeight":"normal","titleColor":"#333","titlePadding":3,"gradientLength":123,"gradientThickness":8,"values":[0,2,4,6],"labelFontSize":10,"labelColor":"#444","tickCount":4,"labelOffset":2}}},
"layer":[
{"data":{"values":[{"c":0.5,"c2":38.5,"r":0.5,"r2":37.5,"z":0.02},{"c":38.5,"c2":43.5,"r":0.5,"r2":37.5,"z":0.1},{"c":43.5,"c2":55.5,"r":0.5,"r2":23.5,"z":0.4},{"c":43.5,"c2":55.5,"r":23.5,"r2":37.5,"z":0.15},{"c":0.5,"c2":38.5,"r":37.5,"r2":74.5,"z":0.75},{"c":15.5,"c2":28.5,"r":58.5,"r2":66.5,"z":0.15},{"c":10.5,"c2":14.5,"r":44.5,"r2":57.5,"z":0.45},{"c":19.5,"c2":28.5,"r":41.5,"r2":46.5,"z":0.55},{"c":14.5,"c2":18.5,"r":50.5,"r2":54.5,"z":0.25},{"c":18.5,"c2":20.5,"r":38.5,"r2":50.5,"z":0.5},{"c":6.5,"c2":7.5,"r":48.5,"r2":59.5,"z":0.1},{"c":6.5,"c2":7.5,"r":67.5,"r2":72.5,"z":-0.2},{"c":11.5,"c2":12.5,"r":66.5,"r2":74.5,"z":-0.2},{"c":0.5,"c2":2.5,"r":58.5,"r2":74.5,"z":0.4},{"c":0.5,"c2":5.5,"r":44.5,"r2":52.5,"z":1.05},{"c":2.5,"c2":5.5,"r":58.5,"r2":66.5,"z":1.1},{"c":7.5,"c2":10.5,"r":60.5,"r2":72.5,"z":1.1},{"c":20.5,"c2":26.5,"r":47.5,"r2":52.5,"z":1.05},{"c":25.5,"c2":29.5,"r":38.5,"r2":44.5,"z":1.2},{"c":29.5,"c2":38.5,"r":38.5,"r2":74.5,"z":0.95},{"c":26.5,"c2":29.5,"r":66.5,"r2":72.5,"z":1.15},{"c":13.5,"c2":17.5,"r":60.5,"r2":66.5,"z":1.0},{"c":38.5,"c2":43.5,"r":37.5,"r2":74.5,"z":-1.25},{"c":43.5,"c2":55.5,"r":37.5,"r2":74.5,"z":-0.85},{"c":49.5,"c2":55.5,"r":37.5,"r2":44.5,"z":-0.5},{"c":43.5,"c2":44.5,"r":57.5,"r2":66.5,"z":-0.4},{"c":50.5,"c2":53.5,"r":62.5,"r2":70.5,"z":-0.3}]},"mark":{"type":"rect"},"encoding":{"x2":{"field":"c2"},"y2":{"field":"r2"}}},
{"data":{"values":[
{"c":7,"r":6,"z":0.6},{"c":7,"r":14,"z":1},{"c":7,"r":17,"z":0.3},{"c":7,"r":20,"z":3},{"c":6,"r":23,"z":6},{"c":6,"r":24,"z":6},{"c":11,"r":18,"z":0.5},{"c":12,"r":18,"z":0.5},{"c":11,"r":20,"z":0.4},{"c":11,"r":7,"z":0.3},{"c":11,"r":8,"z":0.3},{"c":18,"r":7,"z":0.5},{"c":18,"r":20,"z":0.6},{"c":1,"r":35,"z":3.2},{"c":2,"r":35,"z":3.2},{"c":3,"r":35,"z":2.6},{"c":4,"r":35,"z":3.2},{"c":5,"r":35,"z":3.2},{"c":5,"r":36,"z":0.6},{"c":3,"r":14,"z":0.7},{"c":13,"r":14,"z":0.7},{"c":4,"r":10,"z":0.4},{"c":5,"r":10,"z":0.4},{"c":26,"r":14,"z":0.6},{"c":27,"r":14,"z":0.6},{"c":8,"r":36,"z":4},{"c":8,"r":37,"z":6},{"c":9,"r":36,"z":1.5},{"c":10,"r":36,"z":1.5},{"c":9,"r":37,"z":3.4},{"c":10,"r":37,"z":3.4},{"c":15,"r":36,"z":2.5},{"c":16,"r":36,"z":1.3},{"c":17,"r":36,"z":1.2},{"c":14,"r":36,"z":0.6},{"c":26,"r":36,"z":0.7},{"c":27,"r":36,"z":0.5},
{"c":39,"r":33,"z":4},{"c":39,"r":34,"z":5.5},{"c":40,"r":3,"z":0.7},{"c":40,"r":25,"z":5},{"c":40,"r":26,"z":1.5},{"c":40,"r":28,"z":1.2},{"c":40,"r":30,"z":1},{"c":40,"r":33,"z":6},{"c":40,"r":34,"z":6},{"c":40,"r":35,"z":1},{"c":40,"r":36,"z":3.5},{"c":41,"r":3,"z":0.6},{"c":41,"r":5,"z":0.6},{"c":41,"r":7,"z":0.5},{"c":41,"r":18,"z":0.5},{"c":41,"r":26,"z":2},{"c":41,"r":27,"z":2},{"c":41,"r":28,"z":3},{"c":41,"r":29,"z":5.5},{"c":41,"r":30,"z":5.5},{"c":41,"r":31,"z":1},{"c":41,"r":33,"z":1},{"c":41,"r":35,"z":1.5},{"c":41,"r":36,"z":1.5},{"c":42,"r":3,"z":0.6},{"c":42,"r":6,"z":0.6},{"c":42,"r":8,"z":0.6},{"c":42,"r":24,"z":6},{"c":42,"r":25,"z":6},{"c":42,"r":26,"z":6},{"c":42,"r":28,"z":3.5},{"c":42,"r":29,"z":4},{"c":42,"r":30,"z":3.5},{"c":42,"r":31,"z":3},{"c":42,"r":33,"z":0.8},{"c":42,"r":35,"z":1.5},{"c":42,"r":36,"z":1},{"c":43,"r":3,"z":0.4},{"c":43,"r":6,"z":0.4},{"c":43,"r":25,"z":4.5},{"c":43,"r":26,"z":3},{"c":43,"r":27,"z":6},{"c":43,"r":28,"z":6},{"c":43,"r":29,"z":6},{"c":43,"r":30,"z":6},{"c":43,"r":31,"z":6},{"c":43,"r":33,"z":0.7},{"c":43,"r":34,"z":3.5},{"c":43,"r":35,"z":0.8},{"c":43,"r":36,"z":0.8},
{"c":44,"r":2,"z":1.5},{"c":44,"r":5,"z":1},{"c":44,"r":7,"z":0.8},{"c":44,"r":10,"z":0.7},{"c":44,"r":20,"z":3},{"c":44,"r":21,"z":6},{"c":44,"r":22,"z":3},{"c":44,"r":23,"z":3},{"c":44,"r":25,"z":0.6},{"c":45,"r":3,"z":1.5},{"c":45,"r":4,"z":1.5},{"c":45,"r":5,"z":1},{"c":45,"r":6,"z":1.3},{"c":45,"r":7,"z":1},{"c":45,"r":11,"z":1.2},{"c":45,"r":13,"z":1.2},{"c":45,"r":17,"z":3},{"c":45,"r":19,"z":1},{"c":45,"r":22,"z":1.5},{"c":45,"r":25,"z":0.8},{"c":45,"r":28,"z":0.8},{"c":46,"r":2,"z":1},{"c":46,"r":3,"z":1.5},{"c":46,"r":4,"z":1},{"c":46,"r":6,"z":1},{"c":46,"r":10,"z":2.5},{"c":46,"r":11,"z":2},{"c":46,"r":12,"z":1.5},{"c":46,"r":15,"z":1.5},{"c":46,"r":19,"z":1},{"c":46,"r":21,"z":6},{"c":46,"r":22,"z":1.7},{"c":46,"r":25,"z":1},{"c":46,"r":26,"z":1},{"c":46,"r":28,"z":1},{"c":46,"r":30,"z":2.5},{"c":46,"r":34,"z":0.5},{"c":47,"r":3,"z":0.7},{"c":47,"r":5,"z":0.8},{"c":47,"r":10,"z":3.5},{"c":47,"r":11,"z":1.5},{"c":47,"r":12,"z":1.5},{"c":47,"r":13,"z":2.5},{"c":47,"r":15,"z":1},{"c":47,"r":17,"z":1.5},{"c":47,"r":22,"z":1.5},
{"c":48,"r":2,"z":1},{"c":48,"r":4,"z":1.5},{"c":48,"r":5,"z":1.5},{"c":48,"r":6,"z":1},{"c":48,"r":8,"z":1.2},{"c":48,"r":10,"z":2},{"c":48,"r":11,"z":2},{"c":48,"r":12,"z":2},{"c":48,"r":13,"z":1},{"c":48,"r":15,"z":3},{"c":48,"r":16,"z":3},{"c":48,"r":17,"z":1.5},{"c":48,"r":18,"z":1},{"c":48,"r":20,"z":1.5},{"c":48,"r":22,"z":1.2},{"c":48,"r":34,"z":0.7},{"c":49,"r":3,"z":1},{"c":49,"r":5,"z":1},{"c":49,"r":8,"z":1.2},{"c":49,"r":10,"z":3},{"c":49,"r":11,"z":3.5},{"c":49,"r":12,"z":2},{"c":49,"r":14,"z":1},{"c":49,"r":16,"z":2},{"c":49,"r":17,"z":1.8},{"c":49,"r":18,"z":1.4},{"c":49,"r":20,"z":1.5},{"c":49,"r":22,"z":1},{"c":49,"r":34,"z":1},{"c":50,"r":3,"z":1},{"c":50,"r":4,"z":0.8},{"c":50,"r":6,"z":1.2},{"c":50,"r":11,"z":1},{"c":50,"r":12,"z":1.8},{"c":50,"r":13,"z":2},{"c":50,"r":15,"z":2.5},{"c":50,"r":16,"z":3},{"c":50,"r":17,"z":1.2},{"c":50,"r":18,"z":1.4},{"c":50,"r":19,"z":2},{"c":50,"r":20,"z":1.2},{"c":50,"r":22,"z":1},
{"c":51,"r":1,"z":1.2},{"c":51,"r":2,"z":1.5},{"c":51,"r":3,"z":1},{"c":51,"r":6,"z":6},{"c":51,"r":7,"z":5.5},{"c":51,"r":8,"z":2},{"c":51,"r":9,"z":2},{"c":51,"r":10,"z":1.5},{"c":51,"r":11,"z":2},{"c":51,"r":12,"z":1.5},{"c":51,"r":14,"z":1},{"c":51,"r":15,"z":1.5},{"c":51,"r":16,"z":2},{"c":51,"r":18,"z":6},{"c":51,"r":19,"z":6},{"c":51,"r":20,"z":6},{"c":51,"r":21,"z":1.5},{"c":51,"r":22,"z":1.2},{"c":51,"r":32,"z":1},{"c":51,"r":33,"z":1},{"c":52,"r":1,"z":1},{"c":52,"r":3,"z":1.5},{"c":52,"r":4,"z":1.2},{"c":52,"r":7,"z":1.5},{"c":52,"r":9,"z":2.4},{"c":52,"r":10,"z":2.5},{"c":52,"r":11,"z":1.5},{"c":52,"r":12,"z":1.5},{"c":52,"r":14,"z":1},{"c":52,"r":15,"z":2},{"c":52,"r":16,"z":1.5},{"c":52,"r":17,"z":2},{"c":52,"r":18,"z":1.4},{"c":52,"r":20,"z":2},{"c":52,"r":21,"z":3},{"c":52,"r":22,"z":1},{"c":52,"r":27,"z":0.7},
{"c":53,"r":1,"z":1.5},{"c":53,"r":2,"z":2},{"c":53,"r":3,"z":1.5},{"c":53,"r":4,"z":1.7},{"c":53,"r":6,"z":2},{"c":53,"r":8,"z":2.5},{"c":53,"r":9,"z":2},{"c":53,"r":10,"z":2},{"c":53,"r":11,"z":2},{"c":53,"r":12,"z":1},{"c":53,"r":13,"z":2.2},{"c":53,"r":15,"z":1.5},{"c":53,"r":16,"z":2.2},{"c":53,"r":17,"z":2},{"c":53,"r":18,"z":2},{"c":53,"r":19,"z":2},{"c":53,"r":20,"z":1},{"c":53,"r":21,"z":1.5},{"c":53,"r":23,"z":2},{"c":53,"r":27,"z":0.7},{"c":54,"r":1,"z":3.8},{"c":54,"r":2,"z":3.5},{"c":54,"r":3,"z":2},{"c":54,"r":4,"z":2},{"c":54,"r":5,"z":1.6},{"c":54,"r":6,"z":2.6},{"c":54,"r":7,"z":2.3},{"c":54,"r":8,"z":2.4},{"c":54,"r":9,"z":3.3},{"c":54,"r":10,"z":3},{"c":54,"r":11,"z":2},{"c":54,"r":12,"z":6},{"c":54,"r":13,"z":1},{"c":54,"r":15,"z":2},{"c":54,"r":16,"z":2},{"c":54,"r":17,"z":2.5},{"c":54,"r":18,"z":6},{"c":54,"r":19,"z":2.5},{"c":54,"r":20,"z":1},{"c":54,"r":21,"z":1.5},{"c":54,"r":27,"z":0.8},
{"c":55,"r":1,"z":6},{"c":55,"r":2,"z":6},{"c":55,"r":3,"z":6},{"c":55,"r":4,"z":6},{"c":55,"r":5,"z":6},{"c":55,"r":6,"z":6},{"c":55,"r":7,"z":3.6},{"c":55,"r":8,"z":2.2},{"c":55,"r":9,"z":6},{"c":55,"r":10,"z":6},{"c":55,"r":11,"z":1.5},{"c":55,"r":12,"z":1.5},{"c":55,"r":13,"z":2.5},{"c":55,"r":14,"z":6},{"c":55,"r":15,"z":3.5},{"c":55,"r":16,"z":1.7},{"c":55,"r":17,"z":2},{"c":55,"r":18,"z":3},{"c":55,"r":19,"z":1.5},{"c":55,"r":20,"z":2},{"c":55,"r":21,"z":1},{"c":55,"r":22,"z":1.5},{"c":55,"r":36,"z":2.8},{"c":45,"r":36,"z":0.8},{"c":46,"r":36,"z":0.8},{"c":47,"r":36,"z":0.8},{"c":48,"r":36,"z":0.8},{"c":49,"r":36,"z":0.9},{"c":50,"r":36,"z":0.9},{"c":51,"r":36,"z":0.9},{"c":52,"r":36,"z":1},{"c":53,"r":36,"z":1},{"c":54,"r":36,"z":1},
{"c":3,"r":40,"z":1.3},{"c":3,"r":41,"z":1.6},{"c":3,"r":42,"z":1.4},{"c":4,"r":41,"z":1.1},{"c":5,"r":41,"z":0.9},{"c":1,"r":39,"z":1},{"c":2,"r":39,"z":1},{"c":5,"r":42,"z":1.1},{"c":3,"r":43,"z":1.3},{"c":4,"r":43,"z":1.3},{"c":7,"r":45,"z":2},{"c":7,"r":44,"z":1.2},{"c":8,"r":41,"z":1.2},{"c":9,"r":41,"z":1.2},{"c":9,"r":43,"z":1.3},{"c":10,"r":44,"z":2},{"c":10,"r":45,"z":1},{"c":10,"r":47,"z":1.5},{"c":10,"r":48,"z":3.5},{"c":10,"r":49,"z":1.3},{"c":13,"r":39,"z":1.2},{"c":14,"r":39,"z":1.2},{"c":14,"r":42,"z":1.3},{"c":14,"r":43,"z":1.6},{"c":12,"r":40,"z":1},{"c":13,"r":40,"z":1},{"c":15,"r":44,"z":0.4},{"c":17,"r":40,"z":1.2},{"c":17,"r":42,"z":1.1},{"c":17,"r":44,"z":1.6},{"c":17,"r":45,"z":1.2},{"c":1,"r":48,"z":1.2},{"c":2,"r":48,"z":1.4},{"c":3,"r":48,"z":1.4},{"c":4,"r":49,"z":1.2},{"c":5,"r":49,"z":1.3},{"c":3,"r":50,"z":1.5},{"c":2,"r":51,"z":1.3},{"c":2,"r":52,"z":1.8},{"c":2,"r":53,"z":2.2},{"c":4,"r":52,"z":1.3},{"c":5,"r":52,"z":1.4},{"c":5,"r":53,"z":0.3},{"c":7,"r":49,"z":-0.5},{"c":7,"r":50,"z":-0.3},{"c":7,"r":53,"z":2},{"c":7,"r":54,"z":3},{"c":7,"r":56,"z":-0.4},{"c":7,"r":57,"z":-0.5},{"c":8,"r":55,"z":2},{"c":8,"r":56,"z":2},{"c":8,"r":57,"z":1.8},{"c":9,"r":52,"z":1.2},{"c":10,"r":52,"z":1.3},{"c":10,"r":55,"z":3},{"c":10,"r":56,"z":1.5},{"c":2,"r":57,"z":2.5},{"c":3,"r":56,"z":0.3},{"c":4,"r":56,"z":0.3},{"c":5,"r":55,"z":0.2},{"c":5,"r":59,"z":2.4},{"c":5,"r":60,"z":1.5},{"c":5,"r":62,"z":2.2},{"c":5,"r":63,"z":2.2},{"c":5,"r":64,"z":2.4},{"c":5,"r":65,"z":3.2},{"c":3,"r":59,"z":1.3},{"c":3,"r":60,"z":1.5},{"c":4,"r":61,"z":1.2},{"c":3,"r":65,"z":2.8},{"c":3,"r":66,"z":2.8},{"c":3,"r":67,"z":2.4},{"c":4,"r":65,"z":2.8},{"c":4,"r":66,"z":2},{"c":2,"r":64,"z":1.1},{"c":1,"r":61,"z":0.2},{"c":7,"r":60,"z":1.8},{"c":7,"r":63,"z":2.8},{"c":7,"r":64,"z":2.8},{"c":7,"r":68,"z":0.2},{"c":8,"r":60,"z":2},{"c":8,"r":62,"z":1.7},{"c":9,"r":60,"z":2},{"c":9,"r":61,"z":2.2},{"c":9,"r":62,"z":1.9},{"c":10,"r":59,"z":6},{"c":10,"r":60,"z":6},{"c":10,"r":61,"z":2.6},{"c":10,"r":62,"z":2.4},{"c":10,"r":65,"z":1.6},{"c":9,"r":69,"z":1.6},{"c":10,"r":69,"z":1.9},{"c":9,"r":70,"z":1.7},{"c":10,"r":70,"z":1.6},{"c":8,"r":69,"z":1.5},{"c":8,"r":70,"z":1.4},{"c":7,"r":72,"z":3.5},{"c":7,"r":73,"z":6},{"c":7,"r":74,"z":6},{"c":12,"r":62,"z":2},{"c":12,"r":63,"z":3.4},{"c":12,"r":64,"z":3.4},{"c":11,"r":62,"z":1.2},{"c":13,"r":63,"z":1.7},{"c":13,"r":65,"z":3.4},{"c":13,"r":66,"z":3.4},{"c":13,"r":67,"z":2.8},{"c":14,"r":58,"z":2.4},{"c":14,"r":59,"z":1.2},{"c":14,"r":61,"z":2},{"c":14,"r":62,"z":2},{"c":14,"r":63,"z":2.3},{"c":14,"r":64,"z":1.8},{"c":14,"r":65,"z":1.6},{"c":15,"r":56,"z":1.7},{"c":17,"r":56,"z":3.8},{"c":16,"r":56,"z":0.9},{"c":17,"r":55,"z":1},{"c":17,"r":60,"z":1.3},{"c":17,"r":62,"z":1.2},{"c":23,"r":57,"z":2.2},{"c":24,"r":57,"z":1.8},{"c":25,"r":57,"z":2},{"c":21,"r":48,"z":1.2},{"c":22,"r":49,"z":1.2},{"c":23,"r":47,"z":1.3},{"c":24,"r":47,"z":1.3},{"c":25,"r":45,"z":0.9},{"c":24,"r":44,"z":1.3},{"c":25,"r":44,"z":1.2},{"c":19,"r":42,"z":0.9},{"c":21,"r":40,"z":0.9},{"c":22,"r":41,"z":1.2},{"c":26,"r":38,"z":1.3},{"c":27,"r":38,"z":2.8},{"c":27,"r":41,"z":1.2},{"c":26,"r":40,"z":1.4},{"c":27,"r":45,"z":1.5},{"c":27,"r":52,"z":2.6},{"c":27,"r":55,"z":2.8},{"c":26,"r":52,"z":1.4},{"c":27,"r":48,"z":1.4},{"c":28,"r":44,"z":1},{"c":28,"r":48,"z":1.2},{"c":28,"r":69,"z":2.3},{"c":28,"r":70,"z":1.6},{"c":28,"r":71,"z":2},{"c":27,"r":69,"z":1.6},{"c":29,"r":69,"z":1.5},{"c":26,"r":70,"z":1.3},{"c":29,"r":71,"z":0.3},{"c":30,"r":44,"z":2.2},{"c":30,"r":50,"z":2},{"c":30,"r":39,"z":1.5},{"c":31,"r":41,"z":1.4},{"c":31,"r":43,"z":1.3},{"c":32,"r":49,"z":2.2},{"c":32,"r":68,"z":2.4},{"c":32,"r":40,"z":1.5},{"c":33,"r":41,"z":2.4},{"c":33,"r":43,"z":2.4},{"c":33,"r":46,"z":2.2},{"c":33,"r":47,"z":2.2},{"c":33,"r":53,"z":2},{"c":33,"r":60,"z":2.4},{"c":33,"r":67,"z":2.2},{"c":33,"r":68,"z":2.4},{"c":30,"r":57,"z":-0.2},{"c":31,"r":57,"z":-0.2},{"c":32,"r":57,"z":-0.3},{"c":33,"r":57,"z":-0.3},{"c":34,"r":50,"z":0.6},{"c":35,"r":55,"z":0.5},{"c":36,"r":42,"z":3},{"c":36,"r":45,"z":1.8},{"c":36,"r":47,"z":1.7},{"c":36,"r":58,"z":3},{"c":36,"r":59,"z":1.6},{"c":36,"r":68,"z":5},{"c":36,"r":69,"z":2},{"c":36,"r":72,"z":3.8},{"c":37,"r":49,"z":1.6},{"c":37,"r":64,"z":1.3},{"c":38,"r":40,"z":1.7},{"c":38,"r":41,"z":2.4},{"c":38,"r":42,"z":2.4},{"c":38,"r":43,"z":3},{"c":38,"r":44,"z":2.4},{"c":38,"r":45,"z":2.4},{"c":38,"r":58,"z":2.5},{"c":38,"r":62,"z":2.5},{"c":38,"r":66,"z":1.7},{"c":38,"r":67,"z":1.7},
{"c":48,"r":53,"z":1},{"c":48,"r":55,"z":1},{"c":48,"r":70,"z":3.5},{"c":48,"r":71,"z":5},{"c":48,"r":72,"z":6},{"c":49,"r":72,"z":-1},{"c":39,"r":72,"z":-1.7},{"c":40,"r":72,"z":-1.7},{"c":41,"r":72,"z":-1.6},{"c":39,"r":53,"z":-1.7},{"c":48,"r":73,"z":-1.7},{"c":47,"r":73,"z":-1.7},{"c":44,"r":58,"z":-0.2},{"c":44,"r":60,"z":-0.1},{"c":44,"r":63,"z":0.1},{"c":44,"r":64,"z":0.1},{"c":45,"r":58,"z":-0.3},{"c":46,"r":56,"z":-0.5},{"c":49,"r":46,"z":0.1},{"c":50,"r":49,"z":0.1},{"c":50,"r":47,"z":-0.2},{"c":51,"r":42,"z":-0.1},{"c":52,"r":41,"z":-0.2},{"c":53,"r":45,"z":0.1},{"c":55,"r":50,"z":0.4},{"c":55,"r":51,"z":0.5},{"c":55,"r":52,"z":0.5},{"c":55,"r":53,"z":0.4},{"c":54,"r":50,"z":0.1},{"c":52,"r":63,"z":0.4},{"c":51,"r":65,"z":0.3},{"c":53,"r":63,"z":0.4},{"c":53,"r":66,"z":0.2},{"c":44,"r":73,"z":-0.2},{"c":45,"r":73,"z":0.2},{"c":46,"r":73,"z":0.2},{"c":54,"r":73,"z":0.5},{"c":55,"r":73,"z":0.9},{"c":53,"r":73,"z":0.3},{"c":50,"r":50,"z":-0.1}
]},"mark":{"type":"rect","width":9,"height":3.1}},
{"data":{"values":[{"c":-3.18,"r":-3.54,"label":"C"}]},"mark":{"type":"text","align":"left","baseline":"alphabetic","fontSize":43,"color":"#1a1a1a"},"encoding":{"text":{"field":"label"},"color":{"value":"#1a1a1a"}}}
]},
{"encoding":{"x":{"field":"c","type":"quantitative","scale":{"domain":[0.5,55.5],"range":[45.7,535]},"axis":null},"y":{"field":"r","type":"quantitative","scale":{"domain":[0,10],"range":[333,323]},"axis":null}},
"data":{"values":[{"c":1,"r":4,"t":"HEA_PL"},{"c":2,"r":4,"t":"HEA_PL"},{"c":3,"r":4,"t":"SEP_PL_LOC_GAS"},{"c":4,"r":4,"t":"SEP_PL_LOC_GAS"},{"c":5,"r":4,"t":"SEP_PL_INV_OTHER"},{"c":6,"r":4,"t":"HEA_PL"},{"c":7,"r":4,"t":"WOUND_FLUID"},{"c":8,"r":4,"t":"SEP_PL_INV_GAS"},{"c":9,"r":4,"t":"SEP_PL_INV_OTHER"},{"c":10,"r":4,"t":"SEP_PL_INV_OTHER"},{"c":11,"r":4,"t":"WOUND_FLUID"},{"c":12,"r":4,"t":"WOUND_FLUID"},{"c":13,"r":4,"t":"SEP_PL_LOC_GAS"},{"c":14,"r":4,"t":"SEP_PL_INV_OTHER"},{"c":15,"r":4,"t":"SEP_PL_INV_GAS"},{"c":16,"r":4,"t":"SEP_PL_INV_GAS"},{"c":17,"r":4,"t":"SEP_PL_INV_GAS"},{"c":18,"r":4,"t":"HEA_PL"},{"c":19,"r":4,"t":"SEP_PL_LOC_GAS"},{"c":20,"r":4,"t":"HEA_PL"},{"c":21,"r":4,"t":"HEA_PL"},{"c":22,"r":4,"t":"HEA_PL"},{"c":23,"r":4,"t":"HEA_PL"},{"c":24,"r":4,"t":"HEA_PL"},{"c":25,"r":4,"t":"HEA_PL"},{"c":26,"r":4,"t":"SEP_PL_INV_OTHER"},{"c":27,"r":4,"t":"SEP_PL_LOC_GAS"},{"c":28,"r":4,"t":"SEP_PL_INV_OTHER"},{"c":29,"r":4,"t":"SEP_PL_INV_GAS"},{"c":30,"r":4,"t":"SEP_PL_INV_OTHER"},{"c":31,"r":4,"t":"SEP_PL_INV_OTHER"},{"c":32,"r":4,"t":"SEP_PL_INV_OTHER"},{"c":33,"r":4,"t":"SEP_PL_LOC_GAS"},{"c":34,"r":4,"t":"SEP_PL_LOC_GAS"},{"c":35,"r":4,"t":"SEP_PL_LOC_GAS"},{"c":36,"r":4,"t":"SEP_PL_INV_GAS"},{"c":37,"r":4,"t":"SEP_PL_INV_GAS"},{"c":38,"r":4,"t":"SEP_PL_INV_OTHER"},{"c":39,"r":4,"t":"HEA_TONS"},{"c":40,"r":4,"t":"HEA_TONS"},{"c":41,"r":4,"t":"HEA_TONS"},{"c":42,"r":4,"t":"HEA_TONS"},{"c":43,"r":4,"t":"HEA_TONS"},{"c":44,"r":4,"t":"WOUND_FLUID"},{"c":45,"r":4,"t":"GAS_TONS"},{"c":46,"r":4,"t":"GAS_TONS"},{"c":47,"r":4,"t":"GAS_TONS"},{"c":48,"r":4,"t":"WOUND_FLUID"},{"c":49,"r":4,"t":"WOUND_FLUID"},{"c":50,"r":4,"t":"GAS_TONS"},{"c":51,"r":4,"t":"WOUND_FLUID"},{"c":52,"r":4,"t":"GAS_TONS"},{"c":53,"r":4,"t":"GAS_TONS"},{"c":54,"r":4,"t":"GAS_TONS"},{"c":55,"r":4,"t":"GAS_TONS"}]},
"layer":[{"mark":{"type":"rect","width":8.9,"height":6.2,"strokeWidth":0.8},"encoding":{"fill":{"field":"t","type":"nominal","scale":{"domain":["GAS_TONS","HEA_PL","HEA_TONS","SEP_PL_INV_GAS","SEP_PL_INV_OTHER","SEP_PL_LOC_GAS","WOUND_FLUID"],"range":["#17b3e0","#b5d334","#1a1a1a","#b8bcc8","#f5302a","#b93a9e","#ffffff"]},"legend":{"orient":"none","legendX":594,"legendY":331,"title":"Sample type","titleFontSize":10,"titleFontWeight":"bold","titleColor":"#111","titlePadding":2,"symbolType":"square","symbolSize":75,"labelFontSize":9.5,"labelColor":"#333","rowPadding":0,"clipHeight":10.7,"labelOffset":1}},"stroke":{"field":"t","type":"nominal","scale":{"domain":["GAS_TONS","HEA_PL","HEA_TONS","SEP_PL_INV_GAS","SEP_PL_INV_OTHER","SEP_PL_LOC_GAS","WOUND_FLUID"],"range":["transparent","transparent","transparent","transparent","transparent","transparent","#333333"]},"legend":{"orient":"none","legendX":594,"legendY":331,"title":"Sample type","titleFontSize":10,"titleFontWeight":"bold","titleColor":"#111","titlePadding":2,"symbolType":"square","symbolSize":75,"labelFontSize":9.5,"labelColor":"#333","rowPadding":0,"clipHeight":10.7,"labelOffset":1}}}}]},
{"encoding":{"x":{"field":"x","type":"quantitative","scale":{"domain":[0.5,55.5],"range":[45.7,535]},"axis":null},"y":{"field":"y","type":"quantitative","scale":{"domain":[0,40],"range":[318,278]},"axis":null}},"layer":[
{"data":{"values":[{"x":11.77,"x2":42.9,"y":40},{"x":5.04,"x2":18.53,"y":18},{"x":2.6,"x2":7.55,"y":14},{"x":1.55,"x2":4,"y":7.3},{"x":1,"x2":2.04,"y":2},{"x":3.05,"x2":4.55,"y":4},{"x":3.9,"x2":5,"y":1.5},{"x":6,"x2":7.06,"y":7.3},{"x":6.5,"x2":8.8,"y":9.5},{"x":7.9,"x2":9.5,"y":5.3},{"x":9.05,"x2":10,"y":1.5},{"x":13,"x2":24,"y":8.5},{"x":11.4,"x2":16.4,"y":6},{"x":11,"x2":12,"y":3},{"x":13.4,"x2":17.9,"y":4},{"x":15,"x2":16.4,"y":2.5},{"x":19.4,"x2":25.7,"y":6.5},{"x":18,"x2":19,"y":3},{"x":20.1,"x2":25,"y":4.5},{"x":22,"x2":24,"y":3},{"x":26.1,"x2":38.1,"y":5.5},{"x":26,"x2":28.4,"y":4},{"x":29.1,"x2":32.8,"y":4},{"x":33,"x2":38,"y":2.5},{"x":39.9,"x2":46,"y":17.3},{"x":39,"x2":40.9,"y":8},{"x":40,"x2":42,"y":5.3},{"x":41.1,"x2":43,"y":2.3},{"x":44,"x2":51,"y":9.7},{"x":45,"x2":46,"y":6},{"x":47,"x2":53,"y":5.3},{"x":47.8,"x2":51,"y":4},{"x":49,"x2":51,"y":2},{"x":52,"x2":55,"y":4.5},{"x":53,"x2":55,"y":2}]},"mark":{"type":"rule","stroke":"#111","strokeWidth":1.1},"encoding":{"x2":{"field":"x2"}}},
{"data":{"values":[{"x":11.77,"y":40,"y2":18},{"x":42.9,"y":40,"y2":17.3},{"x":5.04,"y":18,"y2":14},{"x":18.53,"y":18,"y2":8.5},{"x":2.6,"y":14,"y2":7.3},{"x":7.55,"y":14,"y2":9.5},{"x":1.55,"y":7.3,"y2":2},{"x":4,"y":7.3,"y2":4},{"x":1,"y":2,"y2":0},{"x":2,"y":2,"y2":0},{"x":3.05,"y":4,"y2":0},{"x":4.55,"y":4,"y2":1.5},{"x":3.9,"y":1.5,"y2":0},{"x":5,"y":1.5,"y2":0},{"x":6,"y":7.3,"y2":0},{"x":7,"y":7.3,"y2":0},{"x":6.5,"y":9.5,"y2":7.3},{"x":8.8,"y":9.5,"y2":5.3},{"x":7.9,"y":5.3,"y2":0},{"x":9.5,"y":5.3,"y2":1.5},{"x":9.05,"y":1.5,"y2":0},{"x":10,"y":1.5,"y2":0},{"x":13,"y":8.5,"y2":6},{"x":24,"y":8.5,"y2":6.5},{"x":11.4,"y":6,"y2":3},{"x":16.4,"y":6,"y2":2.5},{"x":11,"y":3,"y2":0},{"x":12,"y":3,"y2":0},{"x":13.4,"y":4,"y2":0},{"x":17.9,"y":4,"y2":0},{"x":15,"y":2.5,"y2":0},{"x":19.4,"y":6.5,"y2":3},{"x":25.7,"y":6.5,"y2":5.5},{"x":18,"y":3,"y2":0},{"x":19,"y":3,"y2":0},{"x":20.1,"y":4.5,"y2":0},{"x":25,"y":4.5,"y2":0},{"x":22,"y":4.5,"y2":3},{"x":24,"y":3,"y2":0},{"x":26.1,"y":5.5,"y2":4},{"x":38.1,"y":5.5,"y2":2.5},{"x":26,"y":4,"y2":0},{"x":28.4,"y":4,"y2":0},{"x":29.1,"y":5.5,"y2":4},{"x":32.8,"y":4,"y2":0},{"x":33,"y":2.5,"y2":0},{"x":38,"y":2.5,"y2":0},{"x":39.9,"y":17.3,"y2":8},{"x":46,"y":17.3,"y2":9.7},{"x":39,"y":8,"y2":0},{"x":40.9,"y":8,"y2":5.3},{"x":40,"y":5.3,"y2":0},{"x":42,"y":5.3,"y2":2.3},{"x":41.1,"y":2.3,"y2":0},{"x":43,"y":2.3,"y2":0},{"x":44,"y":9.7,"y2":0},{"x":51,"y":9.7,"y2":5.3},{"x":45,"y":6,"y2":0},{"x":46,"y":6,"y2":0},{"x":47,"y":5.3,"y2":0},{"x":53,"y":5.3,"y2":4.5},{"x":47.8,"y":4,"y2":0},{"x":51,"y":4,"y2":2},{"x":49,"y":2,"y2":0},{"x":52,"y":4.5,"y2":0},{"x":53,"y":2,"y2":0},{"x":55,"y":4.5,"y2":0}]},"mark":{"type":"rule","stroke":"#111","strokeWidth":1.1},"encoding":{"y2":{"field":"y2"}}}
]},
{"encoding":{"x":{"field":"x","type":"quantitative","scale":{"domain":[0.46,34.6],"range":[45,562],"padding":0},"axis":{"orient":"bottom","offset":-261,"labels":false,"ticks":false,"title":"Plasma protein","titleFontSize":11.5,"titlePadding":8}},"y":{"field":"y","type":"quantitative","scale":{"domain":[-2.16,8.25],"range":[815,614]},"axis":{"orient":"left","values":[-2,0,2,4,6,8],"offset":-45,"labelFontSize":12,"tickSize":3,"title":"log2 Foldchange","titleFontSize":11.5,"titlePadding":8}}},
"layer":[
{"data":{"values":[{"x":1,"y":-1.62,"t":"Other"},{"x":2,"y":1.36,"t":"Other"},{"x":3,"y":1.47,"t":"Other"},{"x":4,"y":1.52,"t":"Other"},{"x":5,"y":1.66,"t":"M-protein ligands"},{"x":6,"y":1.78,"t":"Other"},{"x":7,"y":2.1,"t":"Other"},{"x":8,"y":2.23,"t":"Other"},{"x":9,"y":2.31,"t":"M-protein ligands"},{"x":10,"y":2.31,"t":"M-protein ligands"},{"x":11,"y":2.47,"t":"Other"},{"x":12,"y":2.5,"t":"Other"},{"x":13,"y":2.74,"t":"Other"},{"x":14,"y":2.74,"t":"Other"},{"x":15,"y":2.75,"t":"Other"},{"x":16,"y":2.9,"t":"M-protein ligands"},{"x":17,"y":2.97,"t":"Other"},{"x":18,"y":3.02,"t":"Other"},{"x":19,"y":3.08,"t":"Other"},{"x":20,"y":3.16,"t":"Other"},{"x":21,"y":3.17,"t":"Other"},{"x":22,"y":3.2,"t":"M-protein ligands"},{"x":23,"y":3.5,"t":"Other"},{"x":24,"y":3.55,"t":"Other"},{"x":25,"y":3.75,"t":"Other"},{"x":26,"y":3.78,"t":"M-protein ligands"},{"x":27,"y":3.78,"t":"M-protein ligands"},{"x":28,"y":3.78,"t":"Other"},{"x":29,"y":3.82,"t":"Other"},{"x":30,"y":4.7,"t":"Other"},{"x":31,"y":4.93,"t":"Other"},{"x":32,"y":4.98,"t":"Other"},{"x":33,"y":5.5,"t":"Other"},{"x":34,"y":7.88,"t":"Other"}]},"mark":{"type":"bar","orient":"vertical","size":13.6,"stroke":"#4a5560","strokeWidth":0.7},"encoding":{"y2":{"datum":0},"color":{"field":"t","type":"nominal","scale":{"domain":["M-protein ligands","Other"],"range":["#e42c25","#2a6ca8"]},"legend":{"orient":"none","legendX":580,"legendY":697,"title":null,"symbolType":"square","symbolSize":289,"symbolStrokeColor":"#333","symbolStrokeWidth":0.8,"labelFontSize":11.5,"labelColor":"#222","rowPadding":0,"clipHeight":18.3,"labelOffset":3}}}},
{"data":{"values":[{"x":0.46,"x2":34.6,"y":-2.16,"y2":8.25}]},"mark":{"type":"rect","fill":"transparent","stroke":"#8a8a8a","strokeWidth":1.2},"encoding":{"x2":{"field":"x2"},"y2":{"field":"y2"}}},
{"data":{"values":[{"x":3.02,"x2":4.39,"y":2.66,"y2":1.95},{"x":6.18,"x2":8.41,"y":3.1,"y2":2.47},{"x":8.91,"x2":9.57,"y":3.45,"y2":2.76},{"x":13.73,"x2":15.43,"y":3.74,"y2":3.09},{"x":15.69,"x2":16.41,"y":3.91,"y2":3.41},{"x":18.37,"x2":19.41,"y":4.17,"y2":3.52},{"x":20.75,"x2":21.43,"y":4.19,"y2":3.64},{"x":23.52,"x2":25.42,"y":4.62,"y2":3.95},{"x":26.25,"x2":26.64,"y":4.76,"y2":4.21},{"x":29.26,"x2":31.4,"y":5.72,"y2":5.1},{"x":32.65,"x2":33.42,"y":7.88,"y2":7.88}]},"mark":{"type":"rule","stroke":"#111","strokeWidth":1},"encoding":{"x2":{"field":"x2"},"y2":{"field":"y2"}}},
{"data":{"values":[{"x":2.34,"y":2.93,"label":"IGHG1"},{"x":5.16,"y":3.41,"label":"ALBU"},{"x":8.58,"y":3.79,"label":"IGHG2"},{"x":12.9,"y":4.05,"label":"FIBB"},{"x":15.28,"y":4.28,"label":"C1QC"},{"x":17.9,"y":4.47,"label":"PLMN"},{"x":20.36,"y":4.5,"label":"FINC"},{"x":22.65,"y":4.95,"label":"FIBG"},{"x":25.98,"y":5.07,"label":"FIBA"},{"x":28.13,"y":6,"label":"A1AG1"},{"x":31.49,"y":7.76,"label":"KNG1"}]},"mark":{"type":"text","align":"center","baseline":"middle","fontSize":10.5,"color":"#222"},"encoding":{"text":{"field":"label"}}},
{"data":{"values":[{"x":-1.85,"y":8.72,"label":"D"}]},"mark":{"type":"text","align":"left","baseline":"alphabetic","fontSize":43,"color":"#1a1a1a"},"encoding":{"text":{"field":"label"}}}
]},
{"data":{"values":[{"x":0.4,"x2":4.6,"y":-0.006,"y2":0.115},{"x":4.94,"x2":9.14,"y":-0.006,"y2":0.115},{"x":9.48,"x2":13.68,"y":-0.006,"y2":0.115},{"x":14.02,"x2":18.22,"y":-0.006,"y2":0.115},{"x":18.56,"x2":22.76,"y":-0.006,"y2":0.115},{"x":23.1,"x2":27.3,"y":-0.006,"y2":0.115},{"x":27.64,"x2":31.84,"y":-0.006,"y2":0.115}]},"mark":{"type":"rect","fill":"#f4f4f4","stroke":"#666","strokeWidth":1.2},"encoding":{"x":{"field":"x","type":"quantitative","scale":{"domain":[0,33],"range":[46.6,620.8],"padding":0},"axis":null},"x2":{"field":"x2"},"y2":{"field":"y2"},"y":{"field":"y","type":"quantitative","scale":{"domain":[-0.006,0.115],"range":[1075,873.3]},"axis":{"orient":"left","values":[0,0.03,0.06,0.09],"format":".2f","offset":-53.5,"labelFontSize":11.5,"tickSize":3,"title":"Norm. intensity","titleFontSize":11.5,"titlePadding":5}}}},
{"encoding":{"x":{"field":"x","type":"quantitative","scale":{"domain":[0,33],"range":[46.6,620.8],"padding":0},"axis":null}},
"layer":[
{"data":{"values":[{"x":0.5,"x2":4.5,"y":-0.001},{"x":0.5,"x2":4.5,"y":0.029},{"x":0.5,"x2":4.5,"y":0.059},{"x":0.5,"x2":4.5,"y":0.089},{"x":5.04,"x2":9.04,"y":-0.001},{"x":5.04,"x2":9.04,"y":0.029},{"x":5.04,"x2":9.04,"y":0.059},{"x":5.04,"x2":9.04,"y":0.089},{"x":9.58,"x2":13.58,"y":-0.001},{"x":9.58,"x2":13.58,"y":0.029},{"x":9.58,"x2":13.58,"y":0.059},{"x":9.58,"x2":13.58,"y":0.089},{"x":14.12,"x2":18.12,"y":-0.001},{"x":14.12,"x2":18.12,"y":0.029},{"x":14.12,"x2":18.12,"y":0.059},{"x":14.12,"x2":18.12,"y":0.089},{"x":18.66,"x2":22.66,"y":-0.001},{"x":18.66,"x2":22.66,"y":0.029},{"x":18.66,"x2":22.66,"y":0.059},{"x":18.66,"x2":22.66,"y":0.089},{"x":23.2,"x2":27.2,"y":-0.001},{"x":23.2,"x2":27.2,"y":0.029},{"x":23.2,"x2":27.2,"y":0.059},{"x":23.2,"x2":27.2,"y":0.089},{"x":27.74,"x2":31.74,"y":-0.001},{"x":27.74,"x2":31.74,"y":0.029},{"x":27.74,"x2":31.74,"y":0.059},{"x":27.74,"x2":31.74,"y":0.089}]},"mark":{"type":"rule","stroke":"#222","strokeWidth":1.2,"strokeDash":[1.5,3.5]},"encoding":{"x2":{"field":"x2"},"y":{"field":"y","type":"quantitative","scale":{"domain":[-0.006,0.115],"range":[1075,873.3]},"axis":null}}},
{"data":{"name":"box"},"mark":{"type":"rule","stroke":"#444","strokeWidth":1.2},"encoding":{"y":{"field":"lo","type":"quantitative","scale":{"domain":[-0.006,0.115],"range":[1075,873.3]},"axis":null},"y2":{"field":"hi"}}},
{"data":{"name":"box"},"mark":{"type":"bar","orient":"vertical","size":13.7,"stroke":"#333","strokeWidth":1.2},"encoding":{"y":{"field":"q1","type":"quantitative","scale":{"domain":[-0.006,0.115],"range":[1075,873.3]},"axis":null},"y2":{"field":"q3"},"color":{"field":"g","type":"nominal","scale":{"domain":["IGHG1","IGHG2","IGHG3","IGHG4"],"range":["#fb6f66","#50a824","#0e9aa7","#b57cc4"]},"legend":{"orient":"none","legendX":619,"legendY":918,"title":["IgG subclass","heavy chain"],"titleFontSize":12,"titleFontWeight":"bold","titleColor":"#111","titleLineHeight":14,"titlePadding":3,"symbolType":"square","symbolSize":169,"symbolStrokeColor":"#333","symbolStrokeWidth":1,"labelFontSize":12,"labelColor":"#333","rowPadding":0,"clipHeight":18,"labelOffset":4}}}},
{"data":{"name":"box"},"mark":{"type":"tick","orient":"horizontal","size":13.7,"thickness":1.6,"color":"#2b2b2b","opacity":1},"encoding":{"y":{"field":"m","type":"quantitative","scale":{"domain":[-0.006,0.115],"range":[1075,873.3]},"axis":null}}},
{"data":{"values":[{"x":3,"y":0.0026},{"x":7.54,"y":0.0034},{"x":8.54,"y":-0.0006},{"x":8.54,"y":0.0016},{"x":10.08,"y":0.1096},{"x":10.08,"y":0.109},{"x":15.62,"y":0.0248},{"x":15.62,"y":0.024},{"x":19.16,"y":0.0604},{"x":19.16,"y":0.06},{"x":19.16,"y":0.0154},{"x":19.16,"y":0.015},{"x":21.16,"y":0.0106},{"x":22.16,"y":0.0078},{"x":25.7,"y":0.0092},{"x":26.7,"y":0.0054},{"x":26.7,"y":0},{"x":30.24,"y":0.014},{"x":30.24,"y":0.013},{"x":30.24,"y":0.012}]},"mark":{"type":"point","size":14,"stroke":"#444","strokeWidth":0.8,"filled":false},"encoding":{"y":{"field":"y","type":"quantitative","scale":{"domain":[-0.006,0.115],"range":[1075,873.3]},"axis":null}}},
{"data":{"values":[{"x":2.5,"y":0.1188,"label":"HEA_TONS"},{"x":7.04,"y":0.1188,"label":"GAS_TONS"},{"x":11.58,"y":0.1188,"label":"WOUND_FLUID"},{"x":16.12,"y":0.1188,"label":"HEA_PL"},{"x":20.66,"y":0.1188,"label":"SEP_PL_LOC_GAS"},{"x":25.2,"y":0.126,"label":"SEP_PL_INV_GAS"},{"x":29.74,"y":0.1188,"label":"SEP_PL_INV_OTHER"}]},"mark":{"type":"text","align":"center","baseline":"alphabetic","fontSize":10,"color":"#333"},"encoding":{"text":{"field":"label"},"y":{"field":"y","type":"quantitative","scale":{"domain":[-0.006,0.115],"range":[1075,873.3]},"axis":null}}},
{"data":{"values":[{"x":-2.16,"y":0.1164,"label":"E"}]},"mark":{"type":"text","align":"left","baseline":"alphabetic","fontSize":43,"color":"#1a1a1a"},"encoding":{"text":{"field":"label"},"y":{"field":"y","type":"quantitative","scale":{"domain":[-0.006,0.115],"range":[1075,873.3]},"axis":null}}}
]}
],
"resolve":{"scale":{"x":"independent","y":"independent","color":"independent","fill":"independent","stroke":"independent"},"axis":{"x":"independent","y":"independent"},"legend":{"color":"independent","fill":"independent","stroke":"independent"}}}
